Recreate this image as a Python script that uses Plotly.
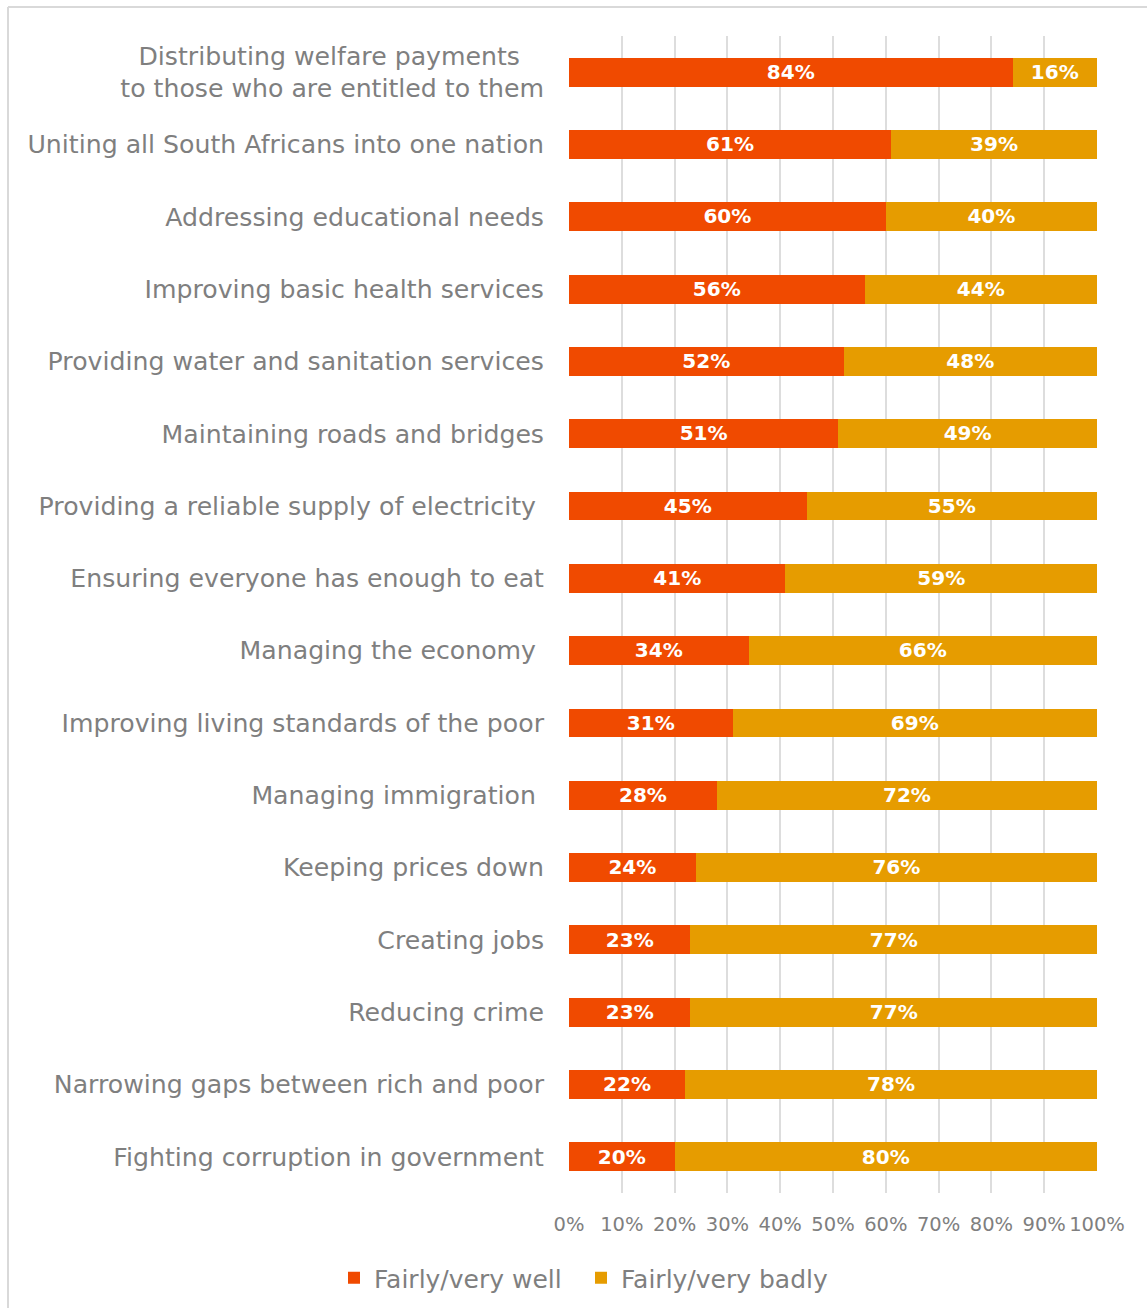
import plotly.graph_objects as go

categories = [
    "Distributing welfare payments\u00a0\u00a0\u00a0<br>to those who are entitled to them",
    "Uniting all South Africans into one nation",
    "Addressing educational needs",
    "Improving basic health services",
    "Providing water and sanitation services",
    "Maintaining roads and bridges",
    "Providing a reliable supply of electricity\u00a0",
    "Ensuring everyone has enough to eat",
    "Managing the economy\u00a0",
    "Improving living standards of the poor",
    "Managing immigration\u00a0",
    "Keeping prices down",
    "Creating jobs",
    "Reducing crime",
    "Narrowing gaps between rich and poor",
    "Fighting corruption in government",
]
well = [84, 61, 60, 56, 52, 51, 45, 41, 34, 31, 28, 24, 23, 23, 22, 20]
badly = [16, 39, 40, 44, 48, 49, 55, 59, 66, 69, 72, 76, 77, 77, 78, 80]
x_ticks = [0, 10, 20, 30, 40, 50, 60, 70, 80, 90, 100]
x_ticklabels = [f"{t}%" for t in x_ticks]

FONT = "DejaVu Sans"
GRAY = "#7f7f7f"

fig = go.Figure()
fig.add_trace(go.Bar(
    y=categories, x=well, name="Fairly/very well", orientation="h",
    marker=dict(color="#F04A00", line=dict(width=0)),
    text=[f"{v}%" for v in well],
    texttemplate="<b>%{text}</b>", textposition="inside", insidetextanchor="middle",
    textfont=dict(color="white", size=21, family=FONT), textangle=0,
    hoverinfo="skip",
))
fig.add_trace(go.Bar(
    y=categories, x=badly, name="Fairly/very badly", orientation="h",
    marker=dict(color="#E69C00", line=dict(width=0)),
    text=[f"{v}%" for v in badly],
    texttemplate="<b>%{text}</b>", textposition="inside", insidetextanchor="middle",
    textfont=dict(color="white", size=21, family=FONT), textangle=0,
    hoverinfo="skip",
))

L, R, T, B = 569, 1097, 36, 1193
def px_x(p):
    return (p - L) / (R - L)
def px_y(p):
    return (B - p) / (B - T)

shapes = [
    dict(type="line", xref="paper", yref="paper", x0=px_x(8), x1=px_x(8), y0=px_y(7), y1=px_y(1320),
         line=dict(color="#d9d9d9", width=2)),
    dict(type="line", xref="paper", yref="paper", x0=px_x(8), x1=px_x(1160), y0=px_y(7), y1=px_y(7),
         line=dict(color="#d9d9d9", width=2)),
]

fig.update_layout(
    barmode="stack",
    bargap=0.6,
    width=1147, height=1308,
    margin=dict(l=L, r=1147 - R, t=T, b=1308 - B, autoexpand=False),
    paper_bgcolor="white", plot_bgcolor="white",
    font=dict(family=FONT, color=GRAY),
    shapes=shapes,
    showlegend=True,
    legend=dict(orientation="h", x=px_x(334), xanchor="left", y=px_y(1278), yanchor="middle",
                font=dict(size=25, color=GRAY, family=FONT), itemwidth=30,
                entrywidth=202, entrywidthmode="pixels",
                traceorder="normal"),
    uniformtext=dict(minsize=8, mode="show"),
)
fig.update_xaxes(
    range=[0, 100], tickvals=x_ticks, ticktext=x_ticklabels, tickangle=0,
    showgrid=True, gridcolor="#dddddd", gridwidth=2, zeroline=False,
    tickfont=dict(size=19.5, color=GRAY, family=FONT), ticklabelstandoff=17,
    showline=False,
)
fig.update_yaxes(
    autorange="reversed", showgrid=False, showline=False,
    tickfont=dict(size=25.2, color=GRAY, family=FONT), ticklabelstandoff=24,
)

fig.write_html("out.html")
